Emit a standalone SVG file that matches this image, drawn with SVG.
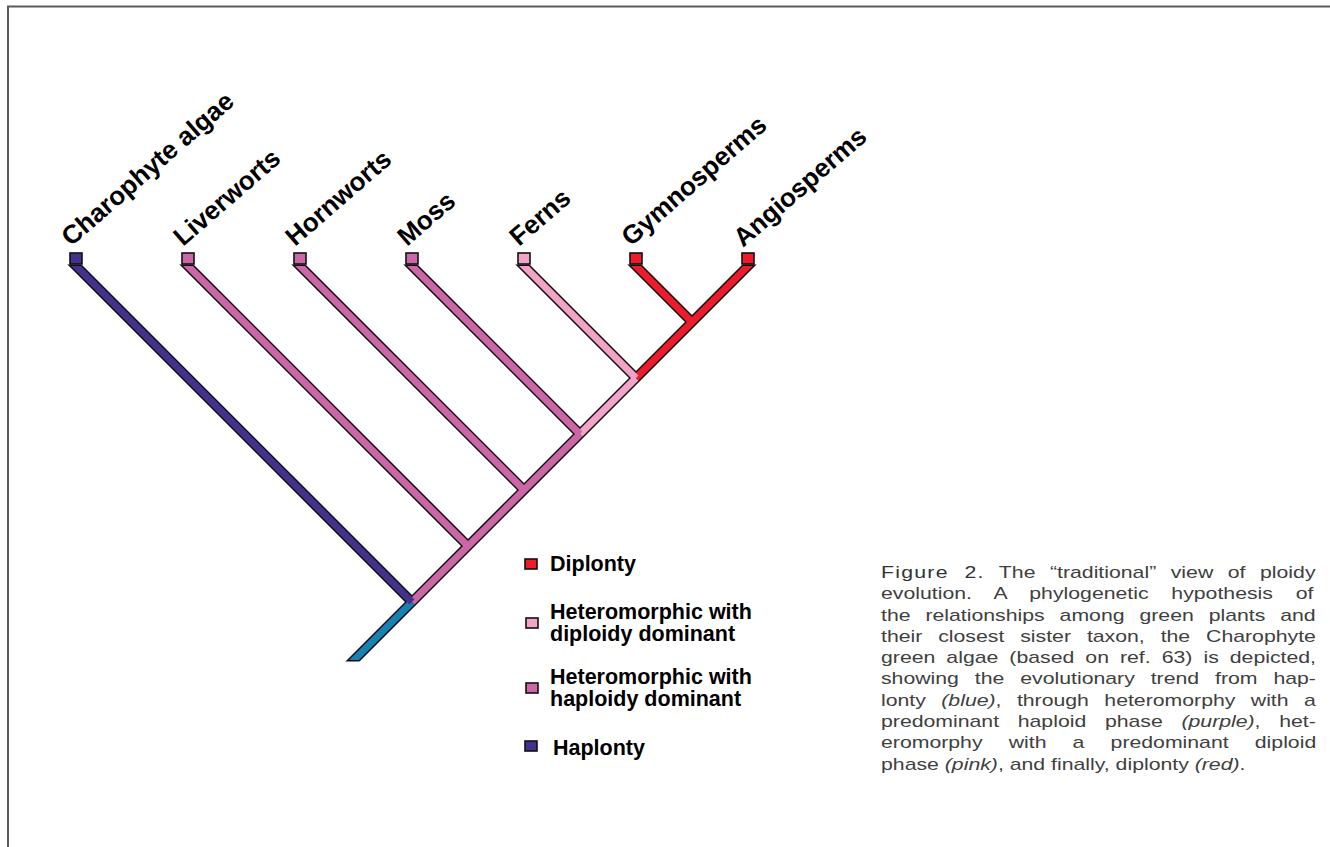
<svg xmlns="http://www.w3.org/2000/svg" width="1330" height="847" viewBox="0 0 1330 847">
  <style>
    .frame { fill: none; stroke: #5a5a5a; stroke-width: 2; }
    .edge { stroke: #111; stroke-width: 10; fill: none; stroke-linecap: butt; }
    .band { stroke-width: 7; fill: none; stroke-linecap: butt; }
    .tip { stroke: #111; stroke-width: 1.6; }
    .taxon { font-family: "Liberation Sans", Arial, sans-serif; font-weight: bold; font-size: 26px; fill: #000; }
    .key { font-family: "Liberation Sans", Arial, sans-serif; font-weight: bold; font-size: 21.5px; fill: #000; }
    .cap { font-family: "Liberation Sans", Arial, sans-serif; font-size: 17px; fill: #404040; }
    .hap { fill: #44308f; stroke: #44308f; }
    .hetH { fill: #cc66a8; stroke: #cc66a8; }
    .hetD { fill: #f4a3c8; stroke: #f4a3c8; }
    .dip { fill: #ee1c2a; stroke: #ee1c2a; }
    .root { stroke: #1a7fb5; }
    .band.hap, .band.hetH, .band.hetD, .band.dip { fill: none; }
    .tip.hap, .tip.hetH, .tip.hetD, .tip.dip { stroke: #111; }
  </style>
  <defs>
    <clipPath id="clipOutline"><rect x="0" y="264.5" width="1330" height="397"/></clipPath>
    <clipPath id="clipFill"><rect x="0" y="266" width="1330" height="394"/></clipPath>
  </defs>

  <!-- page frame -->
  <path class="frame" d="M8,847 V6.5 H1330"/>

  <!-- tree connectors: black outline layer first, then coloured bands -->
  <g id="connectors">
    <g clip-path="url(#clipOutline)">
      <path class="edge" d="M344,670 L758,256"/>
      <path class="edge" d="M66,256 L412,602"/>
      <path class="edge" d="M178,256 L468,546"/>
      <path class="edge" d="M290,256 L524,490"/>
      <path class="edge" d="M402,256 L580,434"/>
      <path class="edge" d="M514,256 L636,378"/>
      <path class="edge" d="M626,256 L692,322"/>
    </g>
    <g clip-path="url(#clipFill)">
      <!-- stem -->
      <path class="band root" d="M344,670 L412,602"/>
      <!-- spine -->
      <path class="band hetH" d="M412,602 L580,434"/>
      <path class="band hetD" d="M580,434 L636,378"/>
      <path class="band dip" d="M636,378 L758,256"/>
      <!-- branches -->
      <path class="band hap" d="M66,256 L412,602"/>
      <path class="band hetH" d="M178,256 L468,546"/>
      <path class="band hetH" d="M290,256 L524,490"/>
      <path class="band hetH" d="M402,256 L580,434"/>
      <path class="band hetD" d="M514,256 L636,378"/>
      <path class="band dip" d="M626,256 L692,322"/>
    </g>
  </g>

  <!-- taxa -->
  <g id="charophyte">
    <rect class="tip hap" x="70" y="253" width="12" height="11"/>
    <text class="taxon" transform="translate(71,247) rotate(-41)">Charophyte algae</text>
  </g>
  <g id="liverworts">
    <rect class="tip hetH" x="182" y="253" width="12" height="11"/>
    <text class="taxon" transform="translate(183,247) rotate(-41)">Liverworts</text>
  </g>
  <g id="hornworts">
    <rect class="tip hetH" x="294" y="253" width="12" height="11"/>
    <text class="taxon" transform="translate(295,247) rotate(-41)">Hornworts</text>
  </g>
  <g id="moss">
    <rect class="tip hetH" x="406" y="253" width="12" height="11"/>
    <text class="taxon" transform="translate(407,247) rotate(-41)">Moss</text>
  </g>
  <g id="ferns">
    <rect class="tip hetD" x="518" y="253" width="12" height="11"/>
    <text class="taxon" transform="translate(519,247) rotate(-41)">Ferns</text>
  </g>
  <g id="gymnosperms">
    <rect class="tip dip" x="630" y="253" width="12" height="11"/>
    <text class="taxon" transform="translate(631,247) rotate(-41)">Gymnosperms</text>
  </g>
  <g id="angiosperms">
    <rect class="tip dip" x="742" y="253" width="12" height="11"/>
    <text class="taxon" transform="translate(743,248) rotate(-41)">Angiosperms</text>
  </g>

  <!-- key -->
  <g id="legend">
    <rect class="tip dip" x="525" y="559" width="12" height="10"/>
    <text class="key" x="550" y="571">Diplonty</text>
    <rect class="tip hetD" x="526" y="618" width="12" height="10"/>
    <text class="key" x="550" y="619">Heteromorphic with</text>
    <text class="key" x="550" y="641">diploidy dominant</text>
    <rect class="tip hetH" x="526" y="683" width="12" height="10"/>
    <text class="key" x="550" y="684">Heteromorphic with</text>
    <text class="key" x="550" y="706">haploidy dominant</text>
    <rect class="tip hap" x="525" y="741" width="12" height="10"/>
    <text class="key" x="553" y="755">Haplonty</text>
  </g>

  <!-- caption: wide face, justified by word spacing to a 435px column -->
  <g id="caption" transform="translate(881,0) scale(1.25,1)">
    <text class="cap" x="0" y="578" word-spacing="6.9"><tspan style="letter-spacing:1px;fill:#333">Figure 2.</tspan> The “traditional” view of ploidy</text>
    <text class="cap" x="0" y="599.3" word-spacing="13.5">evolution. A phylogenetic hypothesis of</text>
    <text class="cap" x="0" y="620.6" word-spacing="7.2">the relationships among green plants and</text>
    <text class="cap" x="0" y="641.9" word-spacing="8">their closest sister taxon, the Charophyte</text>
    <text class="cap" x="0" y="663.2" word-spacing="4.1">green algae (based on ref. 63) is depicted,</text>
    <text class="cap" x="0" y="684.5" word-spacing="8">showing the evolutionary trend from hap-</text>
    <text class="cap" x="0" y="705.8" word-spacing="7.6">lonty <tspan font-style="italic">(blue)</tspan>, through heteromorphy with a</text>
    <text class="cap" x="0" y="727.1" word-spacing="10.2">predominant haploid phase <tspan font-style="italic">(purple)</tspan>, het-</text>
    <text class="cap" x="0" y="748.4" word-spacing="16.2">eromorphy with a predominant diploid</text>
    <text class="cap" x="0" y="769.7">phase <tspan font-style="italic">(pink)</tspan>, and finally, diplonty <tspan font-style="italic">(red)</tspan>.</text>
  </g>
</svg>
